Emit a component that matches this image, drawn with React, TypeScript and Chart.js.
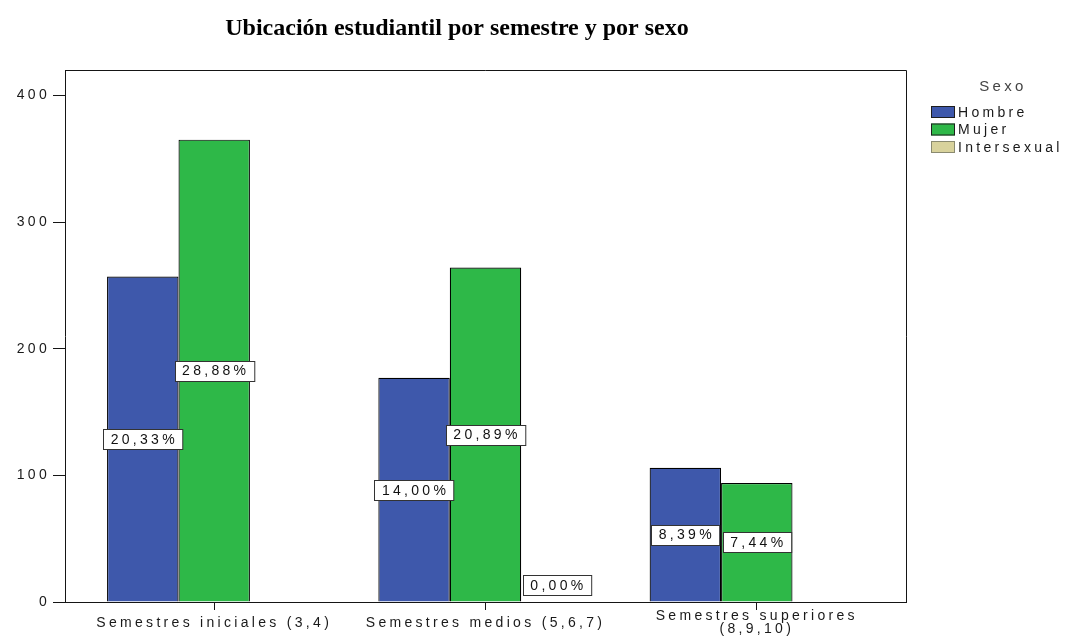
import React, { useEffect, useRef } from "react";
import { Chart, registerables } from "chart.js";

Chart.register(...registerables);

const TITLE = "Ubicación estudiantil por semestre y por sexo";
const categories: (string | string[])[] = [
  "Semestres iniciales (3,4)",
  "Semestres medios (5,6,7)",
  ["Semestres superiores", "(8,9,10)"],
];
const seriesNames = ["Hombre", "Mujer", "Intersexual"];
const hombre = [257, 177, 106];
const mujer = [365, 264, 94];
const intersexual: (number | null)[] = [null, 0, null];
const hombrePct = ["20,33%", "14,00%", "8,39%"];
const mujerPct = ["28,88%", "20,89%", "7,44%"];
const intersexualPct: (string | null)[] = [null, "0,00%", null];
const yTicks = [0, 100, 200, 300, 400];
const legendTitle = "Sexo";
const seriesColors = ["#3e58ab", "#2eb848", "#d8d29c"];

const seriesValues = [hombre, mujer, intersexual];
const seriesPct = [hombrePct, mujerPct, intersexualPct];

const FONT = '"Liberation Sans", Arial, sans-serif';
const SPACING = "3.3px";
const LINE = "#151515";

const decorPlugin = {
  id: "decor",
  beforeDraw(chart: any) {
    chart.ctx.letterSpacing = SPACING;
  },
  afterDraw(chart: any) {
    const ctx = chart.ctx as CanvasRenderingContext2D;
    const a = chart.chartArea;
    ctx.save();
    // top and right frame
    ctx.strokeStyle = LINE;
    ctx.lineWidth = 1;
    ctx.beginPath();
    ctx.moveTo(a.left, Math.round(a.top) + 0.5);
    ctx.lineTo(Math.round(a.right) + 0.5, Math.round(a.top) + 0.5);
    ctx.lineTo(Math.round(a.right) + 0.5, a.bottom);
    ctx.stroke();

    // data labels
    ctx.letterSpacing = SPACING;
    ctx.font = `14px ${FONT}`;
    ctx.textAlign = "center";
    ctx.textBaseline = "middle";
    seriesPct.forEach((pcts, di) => {
      const meta = chart.getDatasetMeta(di);
      meta.data.forEach((el: any, j: number) => {
        const txt = pcts[j];
        if (!txt) return;
        const { x, y, base } = el.getProps(["x", "y", "base"], true);
        const h = 20;
        let cy = (y + base) / 2;
        cy = Math.min(cy, base - h / 2 - 7);
        const w = ctx.measureText(txt).width + 12;
        const bx = Math.round(x - w / 2) + 0.5;
        const by = Math.round(cy - h / 2) + 0.5;
        ctx.fillStyle = "#ffffff";
        ctx.fillRect(bx, by, w, h);
        ctx.strokeStyle = "#333";
        ctx.lineWidth = 1;
        ctx.strokeRect(bx, by, w, h);
        ctx.fillStyle = "#111";
        ctx.fillText(txt, x + 1.5, cy + 1);
      });
    });

    // legend
    const lx = a.right + 25;
    ctx.textAlign = "center";
    ctx.font = `15px ${FONT}`;
    ctx.fillStyle = "#444";
    ctx.fillText(legendTitle, lx + 72, 87);
    ctx.textAlign = "left";
    ctx.font = `14px ${FONT}`;
    seriesNames.forEach((name, i) => {
      const cy = 112 + i * 17.5;
      ctx.fillStyle = seriesColors[i];
      ctx.fillRect(lx, cy - 6, 24, 12);
      ctx.strokeStyle = i === 2 ? "#8a8a70" : "#1e1e1e";
      ctx.strokeRect(lx + 0.5, cy - 5.5, 23, 11);
      ctx.fillStyle = "#1a1a1a";
      ctx.fillText(name, lx + 27, cy + 1);
    });

    // title
    ctx.letterSpacing = "0px";
    ctx.font = `bold 24px "Liberation Serif", "Times New Roman", serif`;
    ctx.fillStyle = "#000";
    ctx.textAlign = "center";
    ctx.textBaseline = "alphabetic";
    ctx.fillText(TITLE, 457, 35);
    ctx.restore();
  },
};

export default function App() {
  const ref = useRef<HTMLCanvasElement>(null);
  useEffect(() => {
    Chart.defaults.font.family = FONT;
    const chart = new Chart(ref.current!, {
      type: "bar",
      data: {
        datasets: seriesNames.map((name, k) => ({
          label: name,
          data: seriesValues[k].map((v, i) => ({ x: i, y: v })),
          backgroundColor: seriesColors[k],
          borderColor: "#000000",
          borderWidth: 1.2,
          categoryPercentage: 0.79,
          barPercentage: 1,
        })) as any,
      },
      options: {
        responsive: false,
        animation: false,
        devicePixelRatio: 1,
        layout: { padding: { top: 70, right: 165, bottom: 0, left: 0 } },
        plugins: {
          legend: { display: false },
          title: { display: false },
          tooltip: { enabled: false },
        },
        scales: {
          x: {
            type: "linear",
            min: -0.55,
            max: 2.55,
            offset: false,
            afterBuildTicks: (s: any) => {
              s.ticks = categories.map((_, i) => ({ value: i }));
            },
            afterFit: (s: any) => {
              s.height = 40;
              s.paddingLeft = 0;
              s.paddingRight = 0;
            },
            ticks: {
              autoSkip: false,
              maxRotation: 0,
              minRotation: 0,
              padding: 6,
              crossAlign: "center",
              color: "#1a1a1a",
              font: { size: 14, lineHeight: 0.95 },
              callback: (v: any) => categories[v as number],
            },
            grid: {
              offset: false,
              drawOnChartArea: false,
              tickLength: 8,
              color: LINE,
            },
            border: { display: true, color: LINE, width: 1 },
          },
          y: {
            min: 0,
            max: 420,
            afterBuildTicks: (s: any) => {
              s.ticks = yTicks.map((v) => ({ value: v }));
            },
            afterFit: (s: any) => {
              s.width = 65;
              s.paddingTop = 0;
              s.paddingBottom = 0;
            },
            ticks: {
              padding: 3,
              color: "#1a1a1a",
              font: { size: 14 },
            },
            grid: {
              drawOnChartArea: false,
              tickLength: 12,
              color: LINE,
            },
            border: { display: true, color: LINE, width: 1 },
          },
        },
      } as any,
      plugins: [decorPlugin],
    });
    return () => chart.destroy();
  }, []);
  return (
    <div
      style={{
        position: "absolute",
        left: 0,
        top: 0,
        width: 1071,
        height: 642,
        background: "#ffffff",
      }}
    >
      <canvas
        ref={ref}
        width={1071}
        height={642}
        style={{ display: "block", width: 1071, height: 642 }}
      />
    </div>
  );
}
